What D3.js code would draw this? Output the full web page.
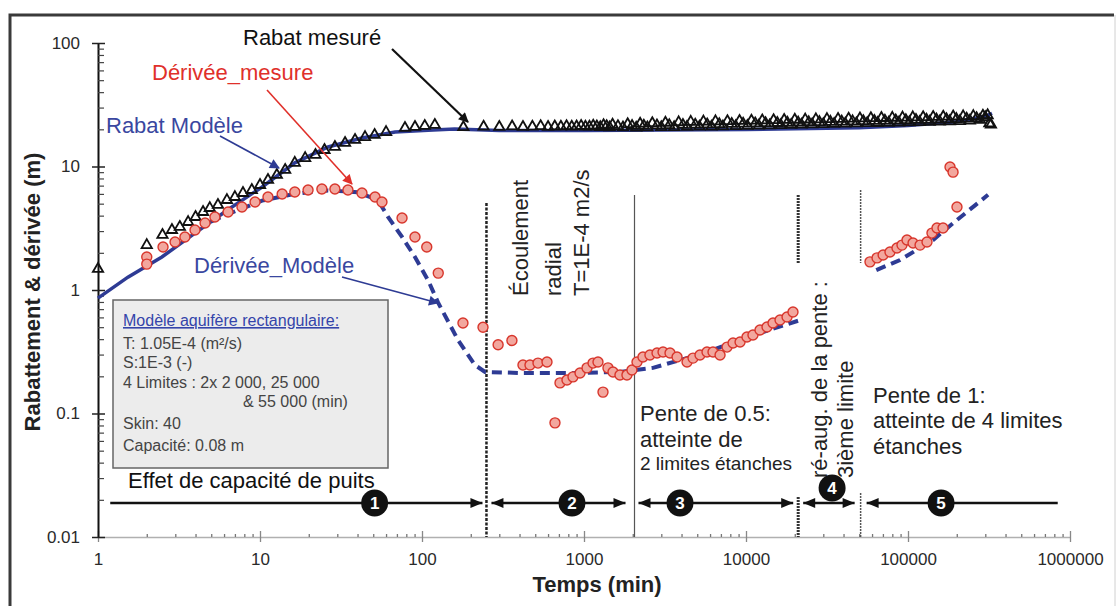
<!DOCTYPE html>
<html><head><meta charset="utf-8">
<script src="https://cdn.jsdelivr.net/npm/d3@7"></script>
<style>
body{margin:0;background:#fff}
svg{display:block}
text{font-family:"Liberation Sans",Arial,Helvetica,sans-serif}
</style>
</head><body>
<svg id="chart" width="1118" height="606"></svg>
<script>
// ---------- DATA ----------
const xTickValues = [1, 10, 100, 1000, 10000, 100000, 1000000];
const xTickLabels = ["1", "10", "100", "1000", "10000", "100000", "1000000"];
const yTickValues = [0.01, 0.1, 1, 10, 100];
const yTickLabels = ["0.01", "0.1", "1", "10", "100"];

// Rabat mesuré (triangles)
const rabatMesureTime = [1, 2, 2.5, 2.86, 3.2, 3.6, 4, 4.45, 4.9, 5.5, 6.25, 7, 7.85, 8.9, 10, 11.2, 12.7, 14.3, 16.4, 19, 22, 25, 29, 33.5, 38.6, 44.5, 51, 60, 78.5, 90.5, 104, 120,
  180, 240, 300, 360, 420, 480, 540, 600, 660, 720, 780, 840, 900, 960, 1020,
  1080, 1140, 1200, 1260, 1320, 1380, 1440, 1500, 1620, 1740, 1860, 1980, 2100, 2220, 2340, 2460, 2640, 2820, 3000, 3180,
  3360, 3600, 3840, 4080, 4320, 4560, 4860, 5160, 5460, 5760, 6120, 6480, 6840, 7200, 7680, 8160, 8640, 9120, 9600,
  10200, 10800, 11400, 12000, 12600, 13200, 14000, 14800, 15600, 16400, 17200, 18000, 19000, 20000, 21000, 22000, 23200, 24400, 25600, 27000,
  28400, 30000, 31600, 33200, 35000, 37000, 39000, 41000, 43000, 45500, 48000, 50500, 53000, 56000, 59000, 62000, 65000, 68500, 72000, 76000,
  80000, 84000, 88000, 92500, 97000,
  102000, 107000, 112000, 118000, 124000, 130000, 136000, 143000, 150000, 157000, 165000, 173000, 181000, 190000, 199000, 209000, 219000, 230000, 241000, 253000,
  265000, 278000, 290000, 300000, 310000, 318000, 325000];
const rabatMesureValue = [1.48, 2.31, 2.79, 3.06, 3.24, 3.55, 3.90, 4.28, 4.61, 4.88, 5.35, 5.66, 6.10, 6.45, 7.08, 7.78, 8.54, 9.37, 10.7, 11.7, 12.4, 13.6, 14.4, 15.5, 16.4, 17.3, 18.0, 19.0, 20.5, 20.9, 21.3, 21.7,
  20.8, 21.0, 20.9, 21.1, 20.9, 21.0, 21.2, 20.9, 21.1, 21.0, 21.2, 21.0, 21.1, 21.3, 21.0,
  21.0, 21.4, 21.1, 20.8, 21.6, 21.2, 20.7, 21.8, 21.2, 20.7, 22.0, 21.3, 20.6, 22.2, 21.4, 20.7, 22.4, 21.5, 20.8, 22.6,
  21.6, 20.8, 22.8, 21.7, 20.9, 23.0, 21.8, 21.0, 23.1, 21.9, 21.0, 23.2, 22.0, 21.1, 23.3, 22.1, 21.2, 23.4, 22.2,
  21.3, 23.5, 22.3, 21.4, 23.6, 22.4, 21.5, 23.7, 22.5, 21.6, 23.8, 22.6, 21.7, 23.9, 22.7, 21.8, 24.0, 22.8, 21.9, 24.1,
  22.9, 22.0, 24.2, 23.0, 22.1, 24.3, 23.1, 22.2, 24.4, 23.2, 22.3, 24.5, 23.3, 22.4, 24.6, 23.4, 22.5, 24.7, 23.5, 22.6,
  24.8, 23.6, 22.7, 24.9, 23.7,
  22.8, 25.0, 23.8, 22.9, 25.1, 23.9, 23.0, 25.2, 24.0, 23.1, 25.3, 24.1, 23.2, 25.4, 24.2, 23.3, 25.5, 24.4, 23.5, 25.6,
  24.6, 23.8, 25.8, 25.0, 26.0, 22.3, 21.8];

// Dérivée mesurée (circles)
const deriveeMesureTime = [2, 2, 2.52, 2.99, 3.44, 3.97, 4.58, 5.27, 6.35, 7.74,
  9.32, 11.2, 13.7, 16.4, 19.8, 24.1, 29.0, 34.9, 42.6, 51.3,
  56.6, 75.3, 90.5, 107, 126, 179, 238, 295, 359, 420,
  464, 520, 591, 662, 711, 785, 855, 945, 1044, 1137,
  1220, 1310, 1406, 1510, 1667, 1841, 1977, 2124, 2312, 2553,
  2823, 3075, 3396, 3752, 4325, 4710, 5200, 5745, 6255, 6915,
  7640, 8320, 9190, 10140, 11040, 12200, 13480, 14680, 16220, 17920,
  19500, 58250, 64400, 70200, 77400, 85500, 91800, 98600, 107400, 118700,
  131000, 140600, 151000, 164500, 181700, 189700, 200600];
const deriveeMesureValue = [1.85, 1.62, 2.23, 2.45, 2.69, 3.06, 3.49, 3.90, 4.28, 4.70,
  5.16, 5.66, 5.99, 6.22, 6.45, 6.57, 6.57, 6.45, 6.10, 5.66,
  5.16, 3.83, 2.69, 2.23, 1.37, 0.54, 0.50, 0.36, 0.39, 0.247,
  0.247, 0.256, 0.261, 0.084, 0.177, 0.187, 0.198, 0.213, 0.234, 0.256,
  0.261, 0.149, 0.234, 0.217, 0.205, 0.205, 0.225, 0.261, 0.287, 0.298,
  0.309, 0.315, 0.309, 0.287, 0.261, 0.281, 0.298, 0.315, 0.315, 0.298,
  0.345, 0.372, 0.379, 0.416, 0.432, 0.474, 0.501, 0.541, 0.572, 0.605,
  0.664, 1.69, 1.82, 1.92, 2.03, 2.19, 2.31, 2.54, 2.40, 2.31,
  2.45, 2.89, 3.18, 3.18, 9.91, 9.0, 4.70];

// Rabat modèle (solid line)
const rabatModeleTime = [1, 1.53, 2.48, 3.97, 6.3, 10.3, 16.4, 26.3, 42.6, 68.2, 109, 159, 300, 1000, 10000, 50000, 100000, 200000, 300000, 330000];
const rabatModeleValue = [0.86, 1.27, 1.85, 2.89, 4.44, 6.83, 10.7, 14.4, 17.0, 19.0, 19.7, 20.1, 19.6, 19.6, 19.9, 20.6, 21.5, 23.0, 25.5, 27.0];

// Dérivée modèle (dashed line, two parts)
const deriveeModeleTime1 = [5, 6.3, 10.3, 16.4, 26.3, 40, 53.5, 61.7, 75.3, 90.5, 109, 126, 167, 212, 245, 400, 945, 1667, 2666, 3540, 5200, 11000, 21500];
const deriveeModeleValue1 = [3.6, 4.1, 5.3, 6.0, 6.4, 6.2, 5.35, 3.90, 2.69, 1.85, 1.20, 0.785, 0.393, 0.247, 0.217, 0.213, 0.213, 0.217, 0.234, 0.261, 0.30, 0.43, 0.57];
const deriveeModeleTime2 = [63700, 89300, 142700, 200600, 312000];
const deriveeModeleValue2 = [1.45, 1.75, 2.54, 3.69, 5.9];

// Phase boundaries (min) and timeline
const phaseBoundaries = [250, 2050, 21000, 51000];
const phaseLabels = ["1", "2", "3", "4", "5"];
const phaseLabelTime = [51, 843, 3915, 34000, 160000];
const timelineStart = 1.19;
const timelineEnd = 840000;

// ---------- DRAW ----------
const svg = d3.select("#chart");
const x = d3.scaleLog().domain([1, 1e6]).range([98, 1070]);
const y = d3.scaleLog().domain([0.01, 100]).range([537, 43]);

const blue = "#2e3b94";
const red = "#e0302a";

// defs: arrow markers
const defs = svg.append("defs");
function marker(id, color) {
  defs.append("marker").attr("id", id).attr("viewBox", "0 0 10 10")
    .attr("refX", 9).attr("refY", 5).attr("markerWidth", 12).attr("markerHeight", 10)
    .attr("markerUnits", "userSpaceOnUse").attr("orient", "auto")
    .append("path").attr("d", "M0,0 L10,5 L0,10 z").attr("fill", color);
}
marker("arrBlack", "#111");
marker("arrRed", red);
marker("arrBlue", blue);

// outer frame
svg.append("path").attr("d", "M10,606 V15 H1114").attr("fill", "none").attr("stroke", "#3a3a3a").attr("stroke-width", 3);
svg.append("line").attr("x1", 1115).attr("x2", 1115).attr("y1", 15).attr("y2", 606).attr("stroke", "#d0d0d0").attr("stroke-width", 1);

// X axis
const minorX = [];
for (let d = 1; d < 1e6; d *= 10) for (let k = 2; k <= 9; k++) minorX.push(d * k);
const gx = svg.append("g").attr("transform", "translate(0,537)");
gx.call(d3.axisBottom(x).tickValues(xTickValues).tickFormat((d, i) => xTickLabels[i]).tickSize(5).tickSizeOuter(0));
gx.select(".domain").attr("stroke", "#b0b0b0").attr("stroke-width", 1.5);
gx.selectAll(".tick line").attr("y1", -6).attr("y2", 5).attr("stroke", "#888").attr("stroke-width", 1.3);
gx.selectAll(".tick text").attr("y", 22).attr("dy", "0.35em").attr("font-size", 17).attr("fill", "#2a2a2a").attr("font-family", "Liberation Sans, Arial, sans-serif");
const gxm = svg.append("g").attr("transform", "translate(0,537)");
gxm.call(d3.axisTop(x).tickValues(minorX).tickFormat("").tickSize(3).tickSizeOuter(0));
gxm.select(".domain").remove();
gxm.selectAll(".tick line").attr("stroke", "#777").attr("stroke-width", 1.3);

// Y axis
const minorY = [];
for (let d = 0.01; d < 99; d *= 10) for (let k = 2; k <= 9; k++) minorY.push(d * k);
const gy = svg.append("g").attr("transform", "translate(98,0)");
gy.call(d3.axisLeft(y).tickValues(yTickValues).tickFormat((d, i) => yTickLabels[i]).tickSize(6).tickSizeOuter(0));
gy.select(".domain").attr("stroke", "#111").attr("stroke-width", 2);
gy.selectAll(".tick line").attr("x1", 7).attr("x2", -6).attr("stroke", "#222").attr("stroke-width", 1.5);
gy.selectAll(".tick text").attr("x", -18).attr("font-size", 17).attr("fill", "#2a2a2a").attr("font-family", "Liberation Sans, Arial, sans-serif");
const gym = svg.append("g").attr("transform", "translate(98,0)");
gym.call(d3.axisRight(y).tickValues(minorY).tickFormat("").tickSize(6).tickSizeOuter(0));
gym.select(".domain").remove();
gym.selectAll(".tick line").attr("stroke", "#444").attr("stroke-width", 1.2);

// axis titles
svg.append("text").attr("x", 597).attr("y", 592).attr("text-anchor", "middle")
  .attr("font-size", 22).attr("font-weight", "bold").attr("fill", "#222").text("Temps (min)");
svg.append("text").attr("transform", "translate(40,292) rotate(-90)").attr("text-anchor", "middle")
  .attr("font-size", 22).attr("font-weight", "bold").attr("fill", "#222").text("Rabattement & dérivée (m)");

// phase boundary vertical lines
const vb = svg.append("g");
vb.append("line").attr("x1", x(phaseBoundaries[0])).attr("x2", x(phaseBoundaries[0])).attr("y1", 203).attr("y2", 537)
  .attr("stroke", "#222").attr("stroke-width", 2.5).attr("stroke-dasharray", "3,1.5");
vb.append("line").attr("x1", x(phaseBoundaries[1])).attr("x2", x(phaseBoundaries[1])).attr("y1", 195).attr("y2", 537)
  .attr("stroke", "#555").attr("stroke-width", 1.2);
[[195, 263], [497, 537]].forEach(s => vb.append("line").attr("x1", x(phaseBoundaries[2])).attr("x2", x(phaseBoundaries[2]))
  .attr("y1", s[0]).attr("y2", s[1]).attr("stroke", "#333").attr("stroke-width", 3).attr("stroke-dasharray", "2,1"));
[[190, 263], [493, 537]].forEach(s => vb.append("line").attr("x1", x(phaseBoundaries[3])).attr("x2", x(phaseBoundaries[3]))
  .attr("y1", s[0]).attr("y2", s[1]).attr("stroke", "#555").attr("stroke-width", 1.5).attr("stroke-dasharray", "2,1"));

// Model lines
const line = d3.line().x(d => x(d[0])).y(d => y(d[1]));
svg.append("path").datum(deriveeModeleTime1.map((t, i) => [t, deriveeModeleValue1[i]]))
  .attr("d", line).attr("fill", "none").attr("stroke", blue).attr("stroke-width", 4).attr("stroke-dasharray", "10,6");
svg.append("path").datum(deriveeModeleTime2.map((t, i) => [t, deriveeModeleValue2[i]]))
  .attr("d", line).attr("fill", "none").attr("stroke", blue).attr("stroke-width", 4).attr("stroke-dasharray", "10,6");
svg.append("path").datum(rabatModeleTime.map((t, i) => [t, rabatModeleValue[i]]))
  .attr("d", line).attr("fill", "none").attr("stroke", blue).attr("stroke-width", 3.5);

// measured triangles
const tri = d3.symbol().type(d3.symbolTriangle).size(46);
svg.append("g").selectAll("path").data(rabatMesureTime.map((t, i) => [t, rabatMesureValue[i]])).join("path")
  .attr("transform", d => `translate(${x(d[0])},${y(d[1])})`).attr("d", tri)
  .attr("fill", "none").attr("stroke", "#111").attr("stroke-width", 1.8);

// measured derivative circles
svg.append("g").selectAll("circle").data(deriveeMesureTime.map((t, i) => [t, deriveeMesureValue[i]])).join("circle")
  .attr("cx", d => x(d[0])).attr("cy", d => y(d[1])).attr("r", 5)
  .attr("fill", "#f2a79e").attr("stroke", "#d8362c").attr("stroke-width", 1.4);

// annotation texts and arrows
svg.append("text").attr("x", 243).attr("y", 45).attr("font-size", 22).attr("fill", "#111").text("Rabat mesuré");
svg.append("line").attr("x1", 392).attr("y1", 49).attr("x2", 468).attr("y2", 122)
  .attr("stroke", "#111").attr("stroke-width", 2.2).attr("marker-end", "url(#arrBlack)");
svg.append("text").attr("x", 152).attr("y", 80).attr("font-size", 22).attr("fill", red).text("Dérivée_mesure");
svg.append("line").attr("x1", 267).attr("y1", 90).attr("x2", 352).attr("y2", 184)
  .attr("stroke", red).attr("stroke-width", 1.6).attr("marker-end", "url(#arrRed)");
svg.append("text").attr("x", 106).attr("y", 133).attr("font-size", 22).attr("fill", "#3a47a0").text("Rabat Modèle");
svg.append("line").attr("x1", 220).attr("y1", 136).attr("x2", 279).attr("y2", 168)
  .attr("stroke", blue).attr("stroke-width", 1.6).attr("marker-end", "url(#arrBlue)");
svg.append("text").attr("x", 194).attr("y", 273).attr("font-size", 22).attr("fill", "#3a47a0").text("Dérivée_Modèle");
svg.append("line").attr("x1", 342).attr("y1", 277).attr("x2", 438).attr("y2", 303)
  .attr("stroke", blue).attr("stroke-width", 1.6).attr("marker-end", "url(#arrBlue)");

// info box
svg.append("rect").attr("x", 113).attr("y", 300).attr("width", 275).attr("height", 168)
  .attr("fill", "#ececec").attr("stroke", "#666").attr("stroke-width", 1.5);
svg.append("text").attr("x", 123).attr("y", 326).attr("font-size", 16).attr("fill", "#3444aa")
  .attr("text-decoration", "underline").text("Modèle aquifère rectangulaire:");
const infoLines = [["T: 1.05E-4 (m²/s)", 123, 349], ["S:1E-3 (-)", 123, 368], ["4 Limites : 2x 2 000, 25 000", 123, 388],
  ["& 55 000 (min)", 243, 407], ["Skin: 40", 123, 429], ["Capacité: 0.08 m", 123, 451]];
infoLines.forEach(l => svg.append("text").attr("x", l[1]).attr("y", l[2]).attr("font-size", 16).attr("fill", "#444").text(l[0]));

svg.append("text").attr("x", 128).attr("y", 488).attr("font-size", 22).attr("fill", "#111").text("Effet de capacité de puits");

// rotated texts
[["Écoulement", 528], ["radial", 561], ["T=1E-4 m2/s", 589]].forEach(l =>
  svg.append("text").attr("transform", `translate(${l[1]},296) rotate(-90)`).attr("font-size", 22).attr("fill", "#222").text(l[0]));
[["ré-aug. de la pente :", 827], ["3ième limite", 853]].forEach(l =>
  svg.append("text").attr("transform", `translate(${l[1]},478) rotate(-90)`).attr("font-size", 22).attr("fill", "#222").text(l[0]));

// phase texts
svg.append("text").attr("x", 640).attr("y", 421).attr("font-size", 22).attr("fill", "#222").text("Pente de 0.5:");
svg.append("text").attr("x", 640).attr("y", 447).attr("font-size", 22).attr("fill", "#222").text("atteinte de");
svg.append("text").attr("x", 640).attr("y", 470).attr("font-size", 19).attr("fill", "#222").text("2 limites étanches");
svg.append("text").attr("x", 873).attr("y", 403).attr("font-size", 22).attr("fill", "#222").text("Pente de 1:");
svg.append("text").attr("x", 873).attr("y", 428).attr("font-size", 22).attr("fill", "#222").text("atteinte de 4 limites");
svg.append("text").attr("x", 873).attr("y", 454).attr("font-size", 22).attr("fill", "#222").text("étanches");

// timeline
const ty = 503;
const bpx = phaseBoundaries.map(b => x(b));
const segs = [[x(timelineStart), bpx[0] - 4, false, true], [bpx[0] + 5, bpx[1] - 9, true, true],
  [bpx[1] + 4, bpx[2] - 5, true, true], [bpx[2] + 5, bpx[3] - 6, true, true], [bpx[3] + 6, x(timelineEnd), true, false]];
const tl = svg.append("g");
segs.forEach(s => {
  tl.append("line").attr("x1", s[0]).attr("x2", s[1]).attr("y1", ty).attr("y2", ty).attr("stroke", "#111").attr("stroke-width", 2.5);
  if (s[2]) tl.append("path").attr("d", `M${s[0]},${ty} l12,-5 l0,10 z`).attr("fill", "#111");
  if (s[3]) tl.append("path").attr("d", `M${s[1]},${ty} l-12,-5 l0,10 z`).attr("fill", "#111");
});
phaseLabelTime.forEach((t, i) => {
  const cy = i === 3 ? 488 : ty;
  tl.append("circle").attr("cx", x(t)).attr("cy", cy).attr("r", 13.5).attr("fill", "#111");
  tl.append("text").attr("x", x(t)).attr("y", cy).attr("dy", "0.36em").attr("text-anchor", "middle")
    .attr("font-size", 17).attr("font-weight", "bold").attr("fill", "#fff").text(phaseLabels[i]);
});
</script>
</body></html>
